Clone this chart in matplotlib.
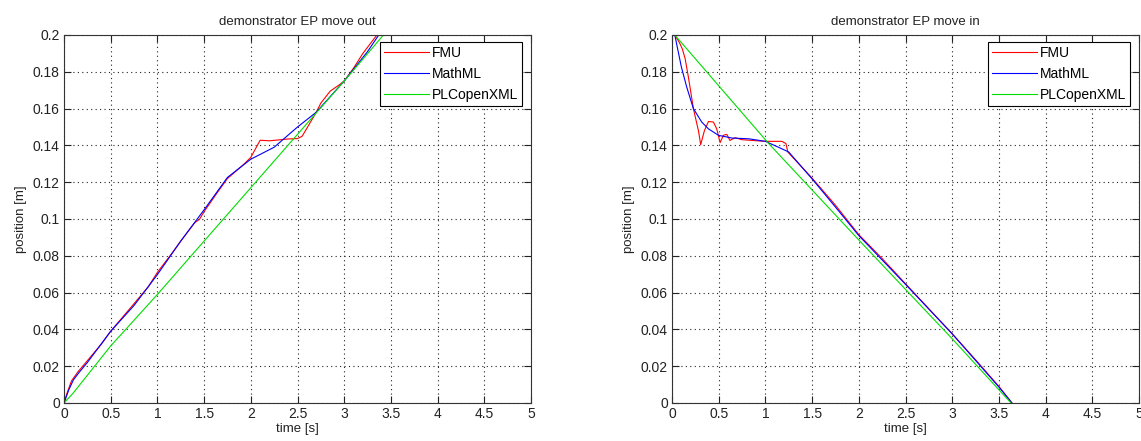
import matplotlib
matplotlib.use("Agg")
import matplotlib.pyplot as plt

plt.rcParams['font.family'] = ['Liberation Sans', 'DejaVu Sans']

# ---- move out data ----
out_t_fmu = [0, 0.03, 0.08, 0.15, 0.25, 0.4, 0.5, 0.65, 0.75, 0.9, 1.0, 1.15, 1.25, 1.4, 1.45, 1.5,
             1.65, 1.75, 1.92, 2.0, 2.1, 2.2, 2.4, 2.5, 2.55, 2.62, 2.7, 2.75, 2.85, 2.95, 3.0, 3.1, 3.2, 3.35]
out_v_fmu = [0, 0.005, 0.012, 0.017, 0.023, 0.032, 0.039, 0.048, 0.054, 0.063, 0.071, 0.081, 0.088, 0.098,
             0.0998, 0.104, 0.115, 0.122, 0.1295, 0.1335, 0.1428, 0.1425, 0.1435, 0.1437, 0.145, 0.151,
             0.158, 0.163, 0.1695, 0.173, 0.175, 0.182, 0.19, 0.2]

out_t_mathml = [0, 0.05, 0.1, 0.16, 0.25, 0.5, 0.75, 1.0, 1.25, 1.5, 1.75, 2.0, 2.25, 2.5, 2.7, 3.0, 3.25, 3.37]
out_v_mathml = [0, 0.007, 0.0125, 0.0165, 0.022, 0.039, 0.053, 0.0698, 0.088, 0.105, 0.1226, 0.1325,
                0.139, 0.150, 0.158, 0.175, 0.191, 0.2]

out_t_plc = [0, 0.1, 0.5, 1.0, 1.5, 2.0, 2.5, 3.0, 3.42]
out_v_plc = [0, 0.0055, 0.031, 0.059, 0.088, 0.117, 0.146, 0.175, 0.2]

# ---- move in data ----
in_t_fmu = [0.03, 0.08, 0.11, 0.14, 0.175, 0.229, 0.283, 0.307, 0.347, 0.39, 0.443, 0.479, 0.515, 0.55,
            0.587, 0.62, 0.676, 0.747, 0.855, 1.0, 1.177, 1.22, 1.24, 1.5, 1.75, 2.0, 2.25, 2.5, 2.75,
            3.0, 3.25, 3.5, 3.64]
in_v_fmu = [0.2, 0.1958, 0.1925, 0.1873, 0.1773, 0.16, 0.148, 0.1404, 0.148, 0.153, 0.1527, 0.149,
            0.1415, 0.1455, 0.146, 0.1427, 0.1442, 0.1431, 0.1427, 0.1422, 0.1422, 0.141, 0.1364,
            0.1222, 0.1075, 0.0915, 0.0785, 0.0648, 0.0512, 0.0376, 0.0235, 0.009, 0.0]

in_t_mathml = [0.03, 0.1, 0.157, 0.229, 0.318, 0.39, 0.497, 0.64, 0.82, 1.0, 1.14, 1.25, 1.5, 1.75,
               2.0, 2.5, 3.0, 3.5, 3.64]
in_v_mathml = [0.2, 0.1827, 0.1718, 0.16, 0.1527, 0.149, 0.1455, 0.144, 0.1436, 0.1422, 0.139,
               0.1364, 0.1218, 0.1065, 0.091, 0.0645, 0.0376, 0.0087, 0.0]

in_t_plc = [0.03, 1.03, 2.0, 3.0, 3.63]
in_v_plc = [0.2, 0.1413, 0.0886, 0.0349, 0.0]

series_names = ['FMU', 'MathML', 'PLCopenXML']
series_colors = ['#ff0000', '#0000ff', '#00dd00']

panels = [
    ("demonstrator EP move out",
     [(out_t_fmu, out_v_fmu), (out_t_mathml, out_v_mathml), (out_t_plc, out_v_plc)]),
    ("demonstrator EP move in",
     [(in_t_fmu, in_v_fmu), (in_t_mathml, in_v_mathml), (in_t_plc, in_v_plc)]),
]

W, H = 1141, 441
fig = plt.figure(figsize=(W / 100, H / 100), dpi=100)
fig.patch.set_facecolor('white')

ax_lefts = [64, 672]
ax_width = 467
ax_top, ax_bottom = 35, 403

for (title, data), left in zip(panels, ax_lefts):
    ax = fig.add_axes([left / W, (H - ax_bottom) / H, ax_width / W, (ax_bottom - ax_top) / H])
    for (t, v), name, col in zip(data, series_names, series_colors):
        ax.plot(t, v, color=col, linewidth=0.8, label=name)
    ax.set_xlim(0, 5)
    ax.set_ylim(0, 0.2)
    ax.set_xticks([0, 0.5, 1, 1.5, 2, 2.5, 3, 3.5, 4, 4.5, 5])
    ax.set_xticklabels(['0', '0.5', '1', '1.5', '2', '2.5', '3', '3.5', '4', '4.5', '5'])
    ax.set_yticks([0, 0.02, 0.04, 0.06, 0.08, 0.1, 0.12, 0.14, 0.16, 0.18, 0.2])
    ax.set_yticklabels(['0', '0.02', '0.04', '0.06', '0.08', '0.1', '0.12', '0.14', '0.16', '0.18', '0.2'])
    ax.grid(True, color='#222222', linestyle=(0, (1, 3)), linewidth=0.8)
    ax.tick_params(direction='in', top=True, right=True, length=5, width=0.8,
                   labelsize=10, colors='#222222', pad=3)
    for s in ax.spines.values():
        s.set_color('#333333')
        s.set_linewidth(0.8)
    ax.set_title(title, fontsize=9.5, pad=7, color='#222222')
    ax.set_xlabel('time [s]', fontsize=9.5, labelpad=1, color='#222222')
    ax.set_ylabel('position [m]', fontsize=9.5, labelpad=4, color='#222222')
    leg = ax.legend(loc='upper right', bbox_to_anchor=(1 - 9 / ax_width, 1 - 7 / (ax_bottom - ax_top)),
                    fontsize=10, fancybox=False, framealpha=1, edgecolor='black',
                    handlelength=3.2, handletextpad=0.2, labelspacing=0.5, borderpad=0.3,
                    borderaxespad=0)
    leg.get_frame().set_linewidth(0.8)

fig.savefig('out.png', dpi=100)
